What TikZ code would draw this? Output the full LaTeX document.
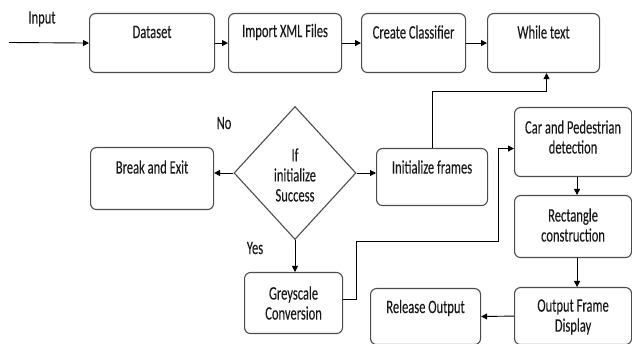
\documentclass[tikz,border=0pt]{standalone}
\usepackage{fontspec}
\setmainfont{Carlito}[FakeStretch=0.66,FakeBold=0.12]
\usetikzlibrary{shapes.geometric,arrows.meta,calc}
\begin{document}
\begin{tikzpicture}[x=1pt,y=-1pt,
  box/.style={draw=black!70,line width=1.1pt,rounded corners=6pt,anchor=north west,inner sep=0pt},
  lbl/.style={anchor=center,align=center,inner sep=0pt,text=black!90,font=\fontsize{19}{20}\selectfont},
  arr/.style={draw=black,line width=0.9pt,-{Triangle[length=6pt,width=6pt]}},
  txt/.style={lbl}]
\useasboundingbox (0,0) rectangle (632,344);
\node[box,minimum width=125pt,minimum height=59pt,label={[lbl,yshift=-19pt]north:Dataset}] (dataset) at (89,13) {};
\node[box,minimum width=113pt,minimum height=59pt,label={[lbl,yshift=-19pt]north:Import XML Files}] (import) at (228,13) {};
\node[box,minimum width=104pt,minimum height=59pt,label={[lbl,yshift=-19pt]north:Create Classifier}] (create) at (361,13) {};
\node[box,minimum width=112pt,minimum height=59pt,label={[lbl,yshift=-19pt]north:While text}] (while) at (487,13) {};
\node[box,minimum width=123pt,minimum height=62pt,label={[lbl,yshift=-20pt]north:Break and Exit}] (brk) at (90,147) {};
\node[box,minimum width=111pt,minimum height=57pt,label={[lbl,yshift=-19pt]north:Initialize frames}] (init) at (376,148) {};
\node[box,minimum width=98pt,minimum height=61pt,label={[lbl,yshift=-31pt]north:Greyscale\\Conversion}] (grey) at (244,272) {};
\node[box,minimum width=117pt,minimum height=69pt,label={[lbl,yshift=-30pt]north:Car and Pedestrian\\detection}] (car) at (514,107) {};
\node[box,minimum width=117pt,minimum height=62pt,label={[lbl,yshift=-30pt]north:Rectangle\\construction}] (rect) at (514,195) {};
\node[box,minimum width=117pt,minimum height=57pt,label={[lbl,yshift=-30pt]north:Output Frame\\Display}] (out) at (514,287) {};
\node[box,minimum width=110pt,minimum height=56pt,label={[lbl,yshift=-20pt]north:Release Output}] (rel) at (370,288) {};
\node[draw=black!70,line width=1.1pt,diamond,inner sep=0pt,minimum width=122pt,minimum height=133pt,
  label={[lbl,yshift=-2pt]center:If\\initialize\\Success}] (dia) at (295,173) {};
\node[txt] (tin) at (42,19) {Input};
\node[txt] (tno) at (224,123) {No};
\node[txt] (tyes) at (255,248) {Yes};
\coordinate (start) at (9,42.5);
\draw[arr] (start) -- (dataset.west);
\draw[arr] (dataset.east) -- (import.west);
\draw[arr] (import.east) -- (create.west);
\draw[arr] (create.east) -- (while.west);
\draw[arr] (init.north) |- ($(while.south)+(3,18)$) -- ($(while.south)+(3,0)$);
\draw[arr] (dia.west) -- (dia.west -| brk.east);
\draw[arr] (dia.east) -- (dia.east -| init.west);
\draw[arr] (dia.south) -- (dia.south |- grey.north);
\draw[arr] ($(grey.east)+(0,-4)$) -- ++(13,0) |- (498,241) |- ($(car.west)+(0,6.5)$);
\draw[arr] ($(car.south)+(4,0)$) -- ($(rect.north)+(4,0)$);
\draw[arr] ($(rect.south)+(4,0)$) -- ($(out.north)+(4,0)$);
\draw[arr] (out.west) -- (rel.east);
\end{tikzpicture}
\end{document}
